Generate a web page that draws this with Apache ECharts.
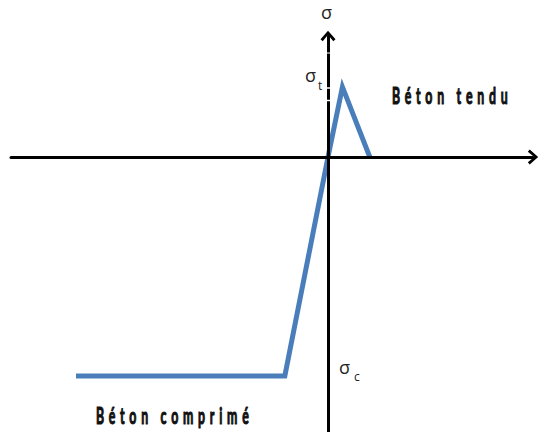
<!DOCTYPE html>
<html>
<head>
<meta charset="utf-8">
<script src="https://cdn.jsdelivr.net/npm/echarts@6/dist/echarts.min.js"></script>
<style>
  html, body { margin: 0; padding: 0; background: #fff; }
  #chart { width: 560px; height: 432px; }
  #chart text.spaced { letter-spacing: 8.5px; }
</style>
</head>
<body>
<div id="chart"></div>
<script>
// Strain (‰) and stress (MPa) of the simplified concrete law
const strain = [-3.5, -0.6, 0, 0.2, 0.58];
const stress = [-20, -20, 0, 6.4, 0];
const xRange = [-4.403, 2.847];
const yRange = [-25.11, 11.05];

const labelTendu = 'Béton tendu';
const labelComprime = 'Béton comprimé';

const chart = echarts.init(document.getElementById('chart'), null, { renderer: 'svg' });

const arrowPath = 'path://M8,0 L16,9 L13.6,11 L8,4.2 L2.4,11 L0,9 Z';

const axisLine = {
  onZero: true,
  symbol: ['none', arrowPath],
  symbolSize: [15, 12],
  lineStyle: { color: '#000', width: 3 }
};

const caption = (text, x, y) => ({
  type: 'text', x: x, y: y, scaleX: 0.56, originX: 0, originY: 0, z: 10,
  style: { text: text, font: 'bold 22px Lato', fill: '#111', stroke: '#111', lineWidth: 1.1,
           align: 'left', verticalAlign: 'middle' }
});

const whiteDash = (x1, x2, y, w) => ({
  type: 'line', z: 20, silent: true,
  shape: { x1: x1, y1: y, x2: x2, y2: y },
  style: { stroke: '#fff', lineWidth: w }
});

chart.setOption({
  animation: false,
  backgroundColor: '#fff',
  grid: { left: 11, right: 27, top: 36, bottom: 0, containLabel: false },
  xAxis: {
    type: 'value', min: xRange[0], max: xRange[1], z: 5,
    axisLine: axisLine, axisTick: { show: false }, axisLabel: { show: false }, splitLine: { show: false }
  },
  yAxis: {
    type: 'value', min: yRange[0], max: yRange[1], z: 5,
    axisLine: axisLine, axisTick: { show: false }, axisLabel: { show: false }, splitLine: { show: false }
  },
  series: [{
    type: 'line',
    data: strain.map((v, i) => [v, stress[i]]),
    showSymbol: false,
    symbol: 'none',
    lineStyle: { color: '#4a7ebb', width: 5, join: 'miter' },
    z: 2
  }],
  graphic: [
    { type: 'text', left: 321, top: 3, style: { text: 'σ', font: '18px "Open Sans"', fill: '#222' } },
    { type: 'text', left: 305, top: 66, style: { text: 'σ', font: '18px "Open Sans"', fill: '#222' } },
    { type: 'text', left: 318, top: 79, style: { text: 't', font: '12px "Open Sans"', fill: '#222' } },
    { type: 'text', left: 339, top: 358, style: { text: 'σ', font: '18px "Open Sans"', fill: '#222' } },
    { type: 'text', left: 354, top: 370, style: { text: 'c', font: '12px "Open Sans"', fill: '#222' } },
    caption(labelTendu, 392, 95),
    caption(labelComprime, 96, 415),
    whiteDash(326, 331, 53, 1),
    whiteDash(327, 334, 88, 1.5),
    whiteDash(327, 336, 100.5, 1.5)
  ]
});

// apply letter spacing to the two bold captions
document.querySelectorAll('#chart text').forEach(t => {
  if (t.textContent === labelTendu || t.textContent === labelComprime) t.classList.add('spaced');
});
</script>
</body>
</html>
